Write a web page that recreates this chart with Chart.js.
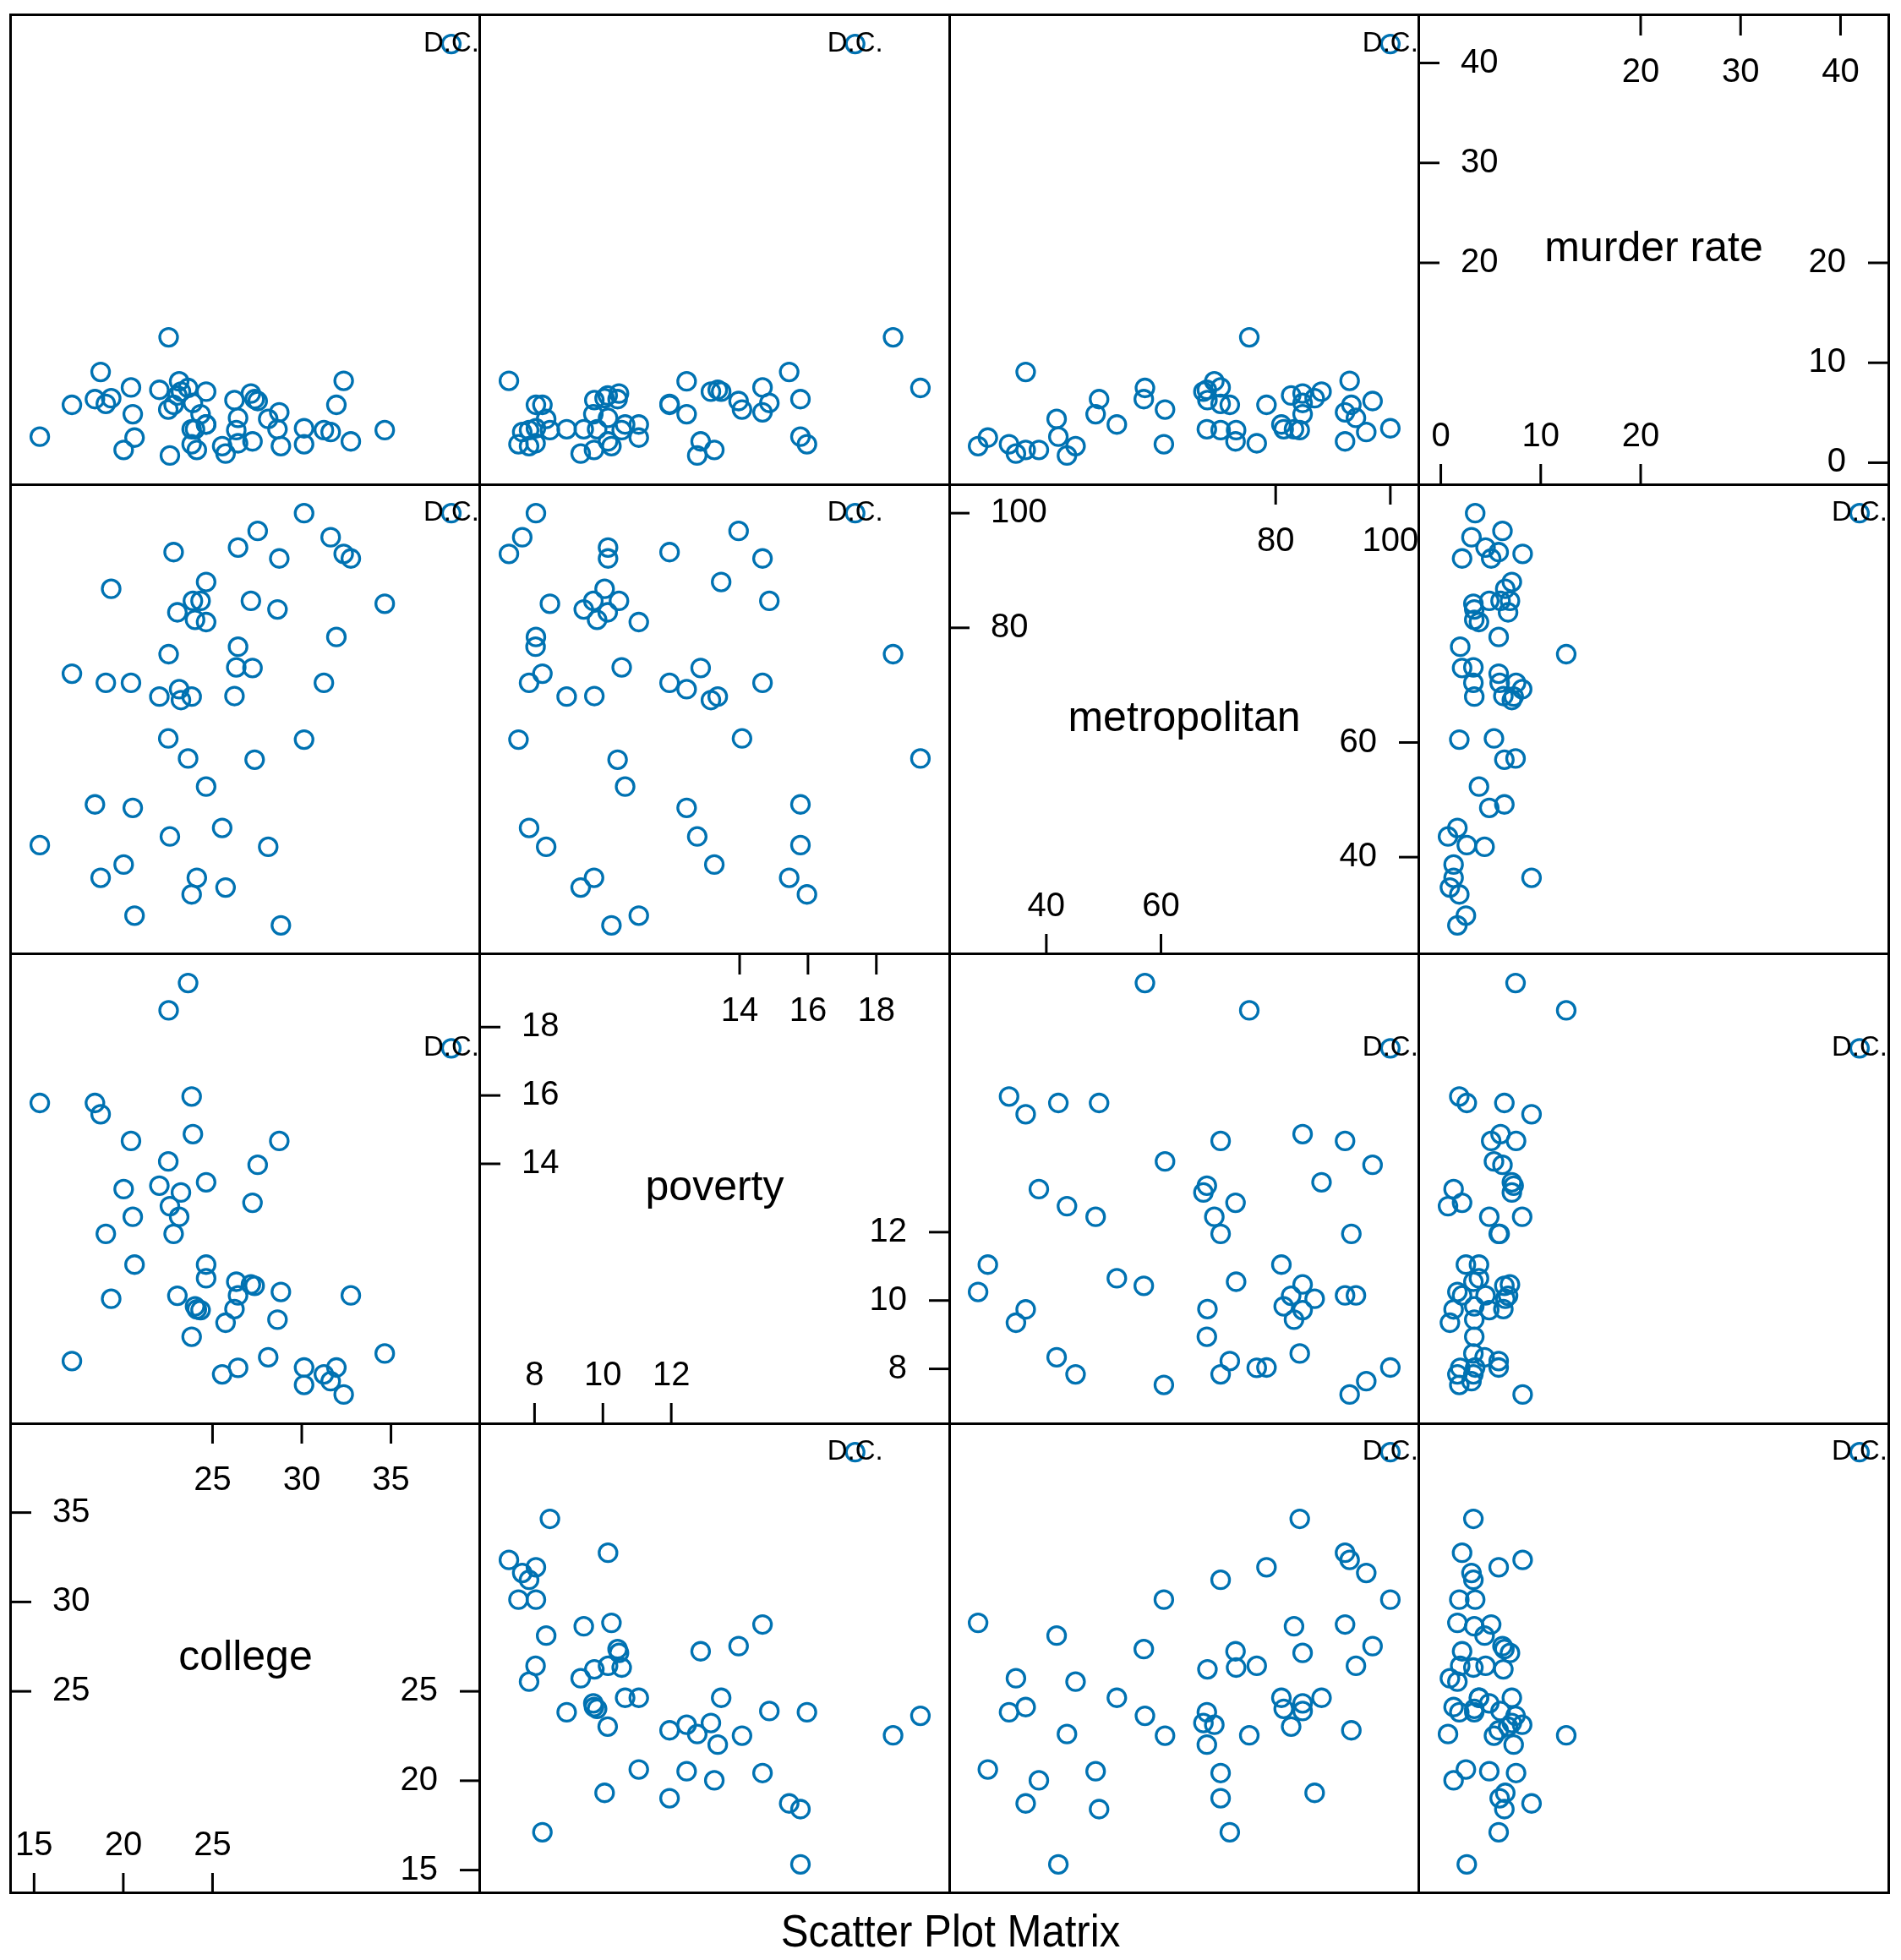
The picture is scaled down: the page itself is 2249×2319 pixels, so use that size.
<!DOCTYPE html>
<html>
<head>
<meta charset="utf-8">
<title>Scatter Plot Matrix</title>
<script src="https://cdn.jsdelivr.net/npm/chart.js@4.4.1/dist/chart.umd.min.js"></script>
<style>
  html, body { margin: 0; padding: 0; background: #fff; }
  #wrap { position: relative; width: 2249px; height: 2319px; overflow: hidden; background: #fff; }
  #wrap canvas { position: absolute; }
  .rule { position: absolute; background: #000; z-index: 2; }
  #title {
    position: absolute; left: 0; top: 2257px; width: 2249px;
    text-align: center; font: 54px "Liberation Sans", Arial, sans-serif; line-height: 54px;
    transform: scaleX(0.91); color: #000;
  }
</style>
</head>
<body>
<div id="wrap">
  <div id="title">Scatter Plot Matrix</div>
</div>
<script>
// one entry per state (51 incl. D.C.)
const college = [23.63, 22.54, 38.38, 15.32, 18.41, 18.73, 23.83, 23.9, 20.43, 28.74, 22.52, 27.53, 24.64, 20.02, 22.02, 23.23,
  27.24, 22.61, 23.13, 20.53, 19.02, 22.82, 20.63, 24.64, 24.64, 26.33, 27.15, 27.36, 28.83, 32.75, 23.03, 19.32, 26.43,
  24.02, 24.33, 24.12, 26.23, 25.73, 28.64, 23.83, 17.12, 28.12, 26.43, 25.54, 30.13, 31.94, 31.24, 34.65, 30.13, 31.62, 32.35]
const poverty = [19.29, 18.49, 17.38, 15.78, 15.78, 15.45, 15.97, 14.87, 14.67, 14.67, 14.07, 13.97, 13.46, 13.26, 13.36, 13.16,
  12.86, 12.76, 12.45, 12.45, 11.95, 11.95, 11.05, 11.05, 10.65, 10.55, 10.47, 10.43, 10.25, 10.15, 10.14, 10.05, 10.15,
  9.83, 9.72, 9.74, 9.75, 9.35, 9.44, 8.94, 8.23, 8.34, 8.03, 7.84, 8.04, 8.04, 7.84, 8.45, 7.53, 7.64, 7.25]
const metropolitan = [57.2, 75.4, 100.0, 42.1, 49.2, 36.4, 33.5, 84.7, 70.4, 92.1, 60.7, 96.9, 88.0, 38.7, 68.0, 67.4,
  73.0, 43.6, 69.3, 48.6, 70.4, 93.2, 29.8, 81.0, 52.3, 73.1, 84.7, 57.0, 28.1, 92.1, 82.7, 86.8, 94.0,
  81.4, 84.7, 36.4, 68.1, 34.7, 83.2, 68.0, 72.0, 41.8, 76.7, 45.1, 100.0, 78.4, 70.4, 84.2, 60.5, 95.8, 92.9]
const murderRate = [7.48, 12.55, 41.9, 2.6, 6.36, 9.08, 1.85, 5.98, 7.53, 5.04, 5.32, 6.17, 7.11, 1.28, 7.29, 7.11,
  2.13, 0.72, 8.14, 4.85, 5.89, 5.79, 2.51, 3.82, 3.82, 3.26, 6.92, 6.36, 1.66, 2.13, 6.73, 6.45, 4.48,
  3.35, 4.85, 1.28, 6.26, 0.91, 3.35, 3.35, 5.79, 4.38, 1.94, 1.66, 3.44, 5.79, 3.26, 3.26, 1.85, 3.07, 8.19]
const pointLabels = college.map((v, i) => i === 2 ? 'D.C.' : '')

const varNames = ['college', 'poverty', 'metropolitan', 'murder rate']
const collegeTicks = [15, 20, 25, 30, 35]
const povertyTicks = [8, 10, 12, 14, 16, 18]
const metroTicks = [40, 60, 80, 100]
const murderTicks = [0, 10, 20, 30, 40]

const vars = [college, poverty, metropolitan, murderRate]
const varTicks = [collegeTicks, povertyTicks, metroTicks, murderTicks]

// panel edges of the 4x4 grid
const EDGE_X = [12.5, 567.9, 1123.3, 1678.7, 2234.1]
const EDGE_Y = [17.5, 573, 1128.5, 1684, 2239.5]
const FONT = '"Liberation Sans", Arial, sans-serif'
const POINT_COLOR = '#0072b2'

// lattice style limits: data range stretched by 7% each side
const limits = vars.map(v => {
  const lo = Math.min(...v), hi = Math.max(...v), d = (hi - lo) * 0.07
  return [lo - d, hi + d]
})

const labelPlugin = {
  id: 'pointLabels',
  afterDatasetsDraw(chart) {
    const meta = chart.getDatasetMeta(0)
    if (!meta || !meta.data) return
    const ctx = chart.ctx
    ctx.save()
    ctx.fillStyle = '#000'
    ctx.font = '33px ' + FONT
    ctx.textAlign = 'center'
    ctx.textBaseline = 'middle'
    meta.data.forEach((el, i) => {
      if (pointLabels[i]) ctx.fillText(pointLabels[i], el.x, el.y)
    })
    ctx.restore()
  }
}

const diagPlugin = {
  id: 'diag',
  afterDraw(chart, args, opts) {
    if (!opts || !opts.ticks) return
    const ctx = chart.ctx
    const xs = chart.scales.x, ys = chart.scales.y
    const w = chart.width, h = chart.height
    const ticks = opts.ticks, n = ticks.length, half = Math.ceil(n / 2)
    const low = ticks.slice(0, half), high = ticks.slice(n - half)
    const tickLen = 24
    ctx.save()
    ctx.strokeStyle = '#000'
    ctx.fillStyle = '#000'
    ctx.lineWidth = 3
    ctx.font = '40px ' + FONT

    // left and top: upper half of the ticks
    ctx.textAlign = 'left'
    ctx.textBaseline = 'middle'
    high.forEach(t => {
      const y = ys.getPixelForValue(t)
      ctx.beginPath(); ctx.moveTo(0, y); ctx.lineTo(tickLen, y); ctx.stroke()
      ctx.fillText(String(t), 49, y)
    })
    ctx.textAlign = 'center'
    ctx.textBaseline = 'alphabetic'
    high.forEach(t => {
      const x = xs.getPixelForValue(t)
      ctx.beginPath(); ctx.moveTo(x, 0); ctx.lineTo(x, tickLen); ctx.stroke()
      ctx.fillText(String(t), x, 79)
    })
    // right and bottom: lower half
    ctx.textAlign = 'right'
    ctx.textBaseline = 'middle'
    low.forEach(t => {
      const y = ys.getPixelForValue(t)
      ctx.beginPath(); ctx.moveTo(w - tickLen, y); ctx.lineTo(w, y); ctx.stroke()
      ctx.fillText(String(t), w - 50, y)
    })
    ctx.textAlign = 'center'
    ctx.textBaseline = 'alphabetic'
    low.forEach(t => {
      const x = xs.getPixelForValue(t)
      ctx.beginPath(); ctx.moveTo(x, h - tickLen); ctx.lineTo(x, h); ctx.stroke()
      ctx.fillText(String(t), x, h - 45)
    })

    ctx.font = '50px ' + FONT
    ctx.textAlign = 'center'
    ctx.textBaseline = 'middle'
    ctx.fillText(opts.name, w / 2, h / 2)
    ctx.restore()
  }
}

const wrap = document.getElementById('wrap')

for (let r = 0; r < 4; r++) {
  for (let c = 0; c < 4; c++) {
    const yi = 3 - r   // rows run murder, metro, poverty, college from the top
    const xi = c
    const left = Math.round(EDGE_X[c]), top = Math.round(EDGE_Y[r])
    const w = Math.round(EDGE_X[c + 1]) - left, h = Math.round(EDGE_Y[r + 1]) - top

    const canvas = document.createElement('canvas')
    canvas.width = w
    canvas.height = h
    canvas.style.left = left + 'px'
    canvas.style.top = top + 'px'
    canvas.style.width = w + 'px'
    canvas.style.height = h + 'px'
    wrap.appendChild(canvas)

    const isDiag = xi === yi
    const points = isDiag ? [] : vars[xi].map((v, k) => ({ x: v, y: vars[yi][k] }))

    new Chart(canvas.getContext('2d'), {
      type: 'scatter',
      data: {
        datasets: [{
          data: points,
          pointStyle: 'circle',
          pointRadius: 10.5,
          pointHoverRadius: 10.5,
          pointBorderWidth: 3.3,
          pointBorderColor: POINT_COLOR,
          pointBackgroundColor: 'rgba(0,0,0,0)',
          borderColor: POINT_COLOR,
          backgroundColor: 'rgba(0,0,0,0)'
        }]
      },
      options: {
        responsive: false,
        animation: false,
        devicePixelRatio: 1,
        events: [],
        layout: { padding: 0, autoPadding: false },
        scales: {
          x: { type: 'linear', display: false, min: limits[xi][0], max: limits[xi][1] },
          y: { type: 'linear', display: false, min: limits[yi][0], max: limits[yi][1] }
        },
        plugins: {
          legend: { display: false },
          tooltip: { enabled: false },
          diag: isDiag ? { ticks: varTicks[xi], name: varNames[xi] } : false
        }
      },
      plugins: isDiag ? [diagPlugin] : [labelPlugin]
    })
  }
}

// panel frame lines
const LINE = 3
EDGE_X.forEach(x => {
  const d = document.createElement('div')
  d.className = 'rule'
  d.style.left = (x - LINE / 2) + 'px'
  d.style.top = (EDGE_Y[0] - LINE / 2) + 'px'
  d.style.width = LINE + 'px'
  d.style.height = (EDGE_Y[4] - EDGE_Y[0] + LINE) + 'px'
  wrap.appendChild(d)
})
EDGE_Y.forEach(y => {
  const d = document.createElement('div')
  d.className = 'rule'
  d.style.left = (EDGE_X[0] - LINE / 2) + 'px'
  d.style.top = (y - LINE / 2) + 'px'
  d.style.width = (EDGE_X[4] - EDGE_X[0] + LINE) + 'px'
  d.style.height = LINE + 'px'
  wrap.appendChild(d)
})
</script>
</body>
</html>
